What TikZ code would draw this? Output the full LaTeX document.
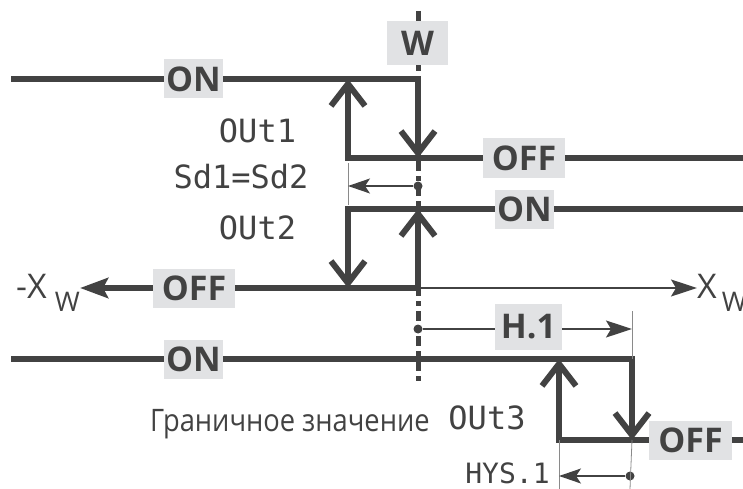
\documentclass[tikz,border=0pt]{standalone}
\usepackage{fontspec}
\setmainfont{Open Sans}
\newfontfamily\segfont{DejaVu Sans Mono}
\usetikzlibrary{arrows.meta}
\definecolor{linegray}{HTML}{424242}
\definecolor{boxgray}{HTML}{E1E2E4}
\definecolor{tickgray}{HTML}{8A8A8A}
\begin{document}
\begin{tikzpicture}[x=1pt,y=-1pt,
    signal/.style={line width=6pt,draw=linegray},
    jump/.style={signal,-{Straight Barb[length=22pt,width=34pt]}},
    guide/.style={line width=1.4pt,draw=linegray},
    extline/.style={line width=0.8pt,draw=tickgray},
    tip/.style={-{Stealth[length=26pt,width=17pt,inset=5pt]}},
    state/.style={fill=boxgray,text=linegray,font=\fontsize{34}{34}\bfseries,
      inner sep=0pt,minimum height=39pt,minimum width=#1},
    seg/.style={text=linegray,font=\segfont\fontsize{32}{32}\selectfont,inner sep=0pt},
    plain/.style={text=linegray,inner sep=0pt},
    dot/.style={circle,fill=linegray,inner sep=0pt,minimum size=9pt}]
  \useasboundingbox (0,0) rectangle (743,489);

  \coordinate (wtop) at (418,11);
  \coordinate (wbot) at (418,383);
  \draw[line width=5pt,draw=linegray,dash pattern=on 10pt off 5pt on 5pt off 5pt] (wtop) -- (wbot);

  \coordinate (a0) at (11,79);
  \coordinate (a1) at (348,79);
  \coordinate (a2) at (418,79);
  \coordinate (a3) at (348,158);
  \coordinate (a4) at (418,158);
  \coordinate (a5) at (743,158);
  \node[state=59pt] (onA) at (193.5,79) {ON};
  \node[state=82pt] (offA) at (524,158) {OFF};
  \draw[signal] (a0) -- (onA.west);
  \draw[jump] (onA.east) -- (a2) -- (a4);
  \draw[jump] (offA.west) -- (a3) -- (a1);
  \draw[signal] (offA.east) -- (a5);

  \coordinate (b1) at (348,209);
  \coordinate (b2) at (418,209);
  \coordinate (b3) at (348,288);
  \coordinate (b4) at (418,288);
  \coordinate (b5) at (743,209);
  \coordinate (b6) at (80,288);
  \coordinate (b7) at (697,288);
  \node[state=59pt] (onB) at (524.5,209) {ON};
  \node[state=82pt] (offB) at (194,288) {OFF};
  \draw[jump] (onB.west) -- (b1) -- (b3);
  \draw[signal] (onB.east) -- (b5);
  \draw[jump] (offB.east) -- (b4) -- (b2);
  \draw[signal,-{Stealth[length=28pt,width=20pt,inset=5pt]}] (offB.west) -- (b6);
  \draw[guide,tip] (b4) -- (b7);
  \node[plain,anchor=base east,font=\fontsize{34}{34}\selectfont] (xneg) at (80,298)
    {-X\hspace{8pt}\raisebox{-13pt}{\fontsize{27}{27}\selectfont W}};
  \node[plain,anchor=base west,font=\fontsize{34}{34}\selectfont] (xpos) at (697,298)
    {X\hspace{5pt}\raisebox{-13pt}{\fontsize{27}{27}\selectfont W}};

  \coordinate (c0) at (11,359);
  \coordinate (c1) at (559,359);
  \coordinate (c2) at (632,359);
  \coordinate (c3) at (559,440);
  \coordinate (c4) at (632,440);
  \coordinate (c5) at (743,440);
  \node[state=59pt] (onC) at (193.5,359) {ON};
  \node[state=83pt] (offC) at (690.5,440) {OFF};
  \draw[signal] (c0) -- (onC.west);
  \draw[jump] (onC.east) -- (c2) -- (c4);
  \draw[jump] (offC.west) -- (c3) -- (c1);
  \draw[signal] (offC.east) -- (c5);

  \node[state=61pt,minimum height=44pt] (wlabel) at (417.5,43) {W};

  \node[dot] (sdA) at (418,186) {};
  \coordinate (sdB) at (348,186);
  \coordinate (sdT1) at (348,163);
  \coordinate (sdT2) at (348,205);
  \draw[extline] (sdT1) -- (sdT2);
  \draw[guide,-{Stealth[length=22pt,width=15pt,inset=5pt]}] (sdA) -- (sdB);

  \node[dot] (hA) at (418,329) {};
  \node[state=67pt,minimum height=46pt] (hlabel) at (528.5,327) {H.1};
  \coordinate (hB) at (632,329);
  \coordinate (hT) at (632,311);
  \draw[extline] (hT) -- (c2);
  \draw[guide] (hA) -- (hlabel.west |- hA);
  \draw[guide,tip] (hlabel.east |- hA) -- (hB);

  \node[dot] (yA) at (630,476) {};
  \coordinate (yB) at (559,476);
  \coordinate (yT1) at (630,489);
  \coordinate (yT2) at (559,489);
  \draw[extline] (c4) -- (yT1);
  \draw[extline] (c3) -- (yT2);
  \draw[guide,-{Stealth[length=22pt,width=15pt,inset=5pt]}] (yA) -- (yB);

  \node[seg] (outA) at (257.5,130.5) {OUt1};
  \node[seg] (sdlabel) at (241,176.5) {Sd1=Sd2};
  \node[seg] (outB) at (257.5,228) {OUt2};
  \node[plain,anchor=base west,font=\fontsize{31}{31}\selectfont] (limit) at (150,431)
    {\scalebox{0.88}[1]{Граничное значение}};
  \node[seg] (outC) at (487,417.5) {OUt3};
  \node[seg,font=\segfont\fontsize{28}{28}\selectfont] (hys) at (507.5,473) {HYS.1};
\end{tikzpicture}
\end{document}
